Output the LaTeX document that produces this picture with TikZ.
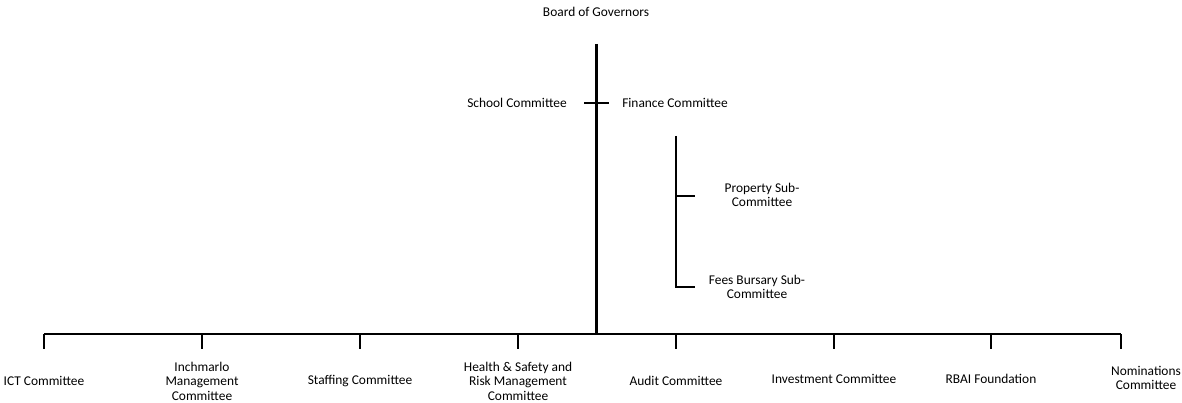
\documentclass[tikz,border=0pt]{standalone}
\usepackage{fontspec}
\setmainfont{Carlito}

\tikzset{
  lbl/.style={font=\fontsize{13.4}{14.6}\selectfont, align=center, inner sep=0pt},
  trunk/.style={line width=3pt},
  bracket/.style={line width=2.2pt},
  bus/.style={line width=2.3pt},
  drop/.style={line width=1.9pt}
}

\begin{document}
\begin{tikzpicture}[x=1pt,y=-1pt]

% Page frame
\useasboundingbox (0,0) rectangle (1182,403);

% Top of the chart
\node[lbl] (board) at (596,12) {Board of Governors};
\coordinate (top) at (596,44);
\coordinate (hub) at (596,334);
\draw[trunk] (top) -- (hub);

% School / Finance cross
\coordinate (crossL) at (584,103);
\coordinate (crossR) at (609,103);
\draw[bracket] (crossL) -- (crossR);
\node[lbl] (school) at (517,103) {School Committee};
\node[lbl] (finance) at (675,103) {Finance Committee};

% Sub-committees bracket
\coordinate (subtop) at (676,136);
\coordinate (propJ) at (676,196);
\coordinate (propE) at (695,196);
\coordinate (feesJ) at (676,287);
\coordinate (feesE) at (695,287);
\draw[bracket] (subtop) -- (feesJ) -- (feesE);
\draw[bracket] (propJ) -- (propE);
\node[lbl] (property) at (762,195) {Property Sub-\\Committee};
\node[lbl] (fees) at (757,287) {Fees Bursary Sub-\\Committee};

% Bottom bus
\coordinate (busL) at (44,334);
\coordinate (busR) at (1121,334);
\draw[bus] (busL) -- (busR);

% Drops
\foreach \x/\nm in {44/ict,202/inch,360/staff,518/health,676/audit,834/invest,991/rbai,1121/nom} {
    \coordinate (\nm-a) at (\x,334);
    \coordinate (\nm-b) at (\x,349);
    \draw[drop] (\nm-a) -- (\nm-b);
}

% Committee labels
\node[lbl] (ict) at (44,381) {ICT Committee};
\node[lbl] (inch) at (202,381) {Inchmarlo\\Management\\Committee};
\node[lbl] (staff) at (360,381) {Staffing Committee};
\node[lbl] (health) at (518,381) {Health \& Safety and\\Risk Management\\Committee};
\node[lbl] (audit) at (676,381) {Audit Committee};
\node[lbl] (invest) at (834,379) {Investment Committee};
\node[lbl] (rbai) at (991,379) {RBAI Foundation};
\node[lbl] (nom) at (1146,378) {Nominations\\Committee};

\end{tikzpicture}
\end{document}
